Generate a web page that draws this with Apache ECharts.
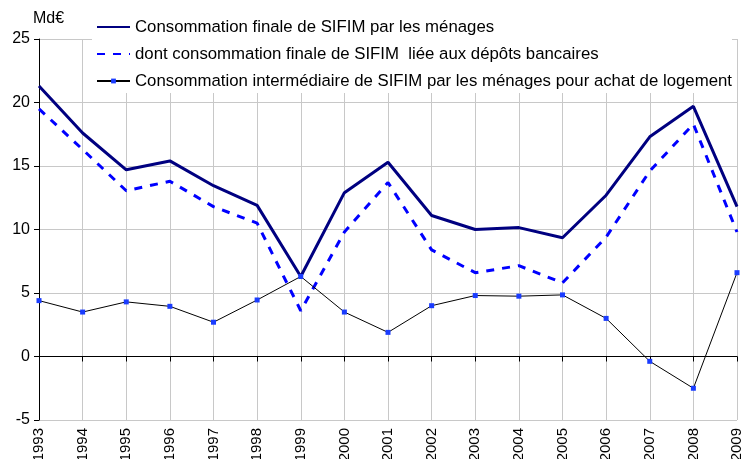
<!DOCTYPE html>
<html>
<head>
<meta charset="utf-8">
<script src="https://cdn.jsdelivr.net/npm/echarts@6/dist/echarts.min.js"></script>
<style>html,body{margin:0;padding:0;background:#fff}#c{width:743px;height:459px}</style>
</head>
<body>
<div id="c"></div>
<script>
var years = ['1993','1994','1995','1996','1997','1998','1999','2000','2001','2002','2003','2004','2005','2006','2007','2008','2009'];
var consoFinale = [21.3, 17.6, 14.7, 15.4, 13.45, 11.9, 6.3, 12.9, 15.3, 11.1, 10.0, 10.15, 9.35, 12.7, 17.3, 19.7, 11.8];
var consoDepots = [19.5, 16.3, 13.05, 13.8, 11.8, 10.5, 3.6, 9.8, 13.7, 8.4, 6.6, 7.15, 5.8, 9.4, 14.6, 18.3, 9.8];
var consoInterm = [4.4, 3.5, 4.3, 3.95, 2.7, 4.45, 6.3, 3.5, 1.9, 4.0, 4.8, 4.75, 4.85, 3.0, -0.38, -2.5, 6.6];
var seriesNames = ['Consommation finale de SIFIM par les ménages',
  'dont consommation finale de SIFIM  liée aux dépôts bancaires',
  'Consommation intermédiaire de SIFIM par les ménages pour achat de logement'];
var unitLabel = 'Md€';
var yTicks = {min: -5, max: 25, interval: 5};

var font = 'Liberation Sans, Arial, sans-serif';
var chart = echarts.init(document.getElementById('c'));
chart.setOption({
  backgroundColor: '#fff',
  animation: false,
  grid: {left: 39, right: 6, top: 39, bottom: 39, containLabel: false, outerBoundsMode: 'none'},
  graphic: [{
    type: 'text', left: 33, top: 11,
    style: {text: unitLabel, font: '16px Liberation Sans, Arial, sans-serif', fill: '#000'}
  }],
  legend: {
    orient: 'vertical', left: 92, top: 14,
    padding: [4, 0, 3, 4],
    backgroundColor: '#fff',
    itemWidth: 33, itemHeight: 6, itemGap: 9,
    textStyle: {fontFamily: font, fontSize: 16.8, color: '#000', lineHeight: 18},
    data: [
      {name: seriesNames[0], itemStyle: {opacity: 0}},
      {name: seriesNames[1], itemStyle: {opacity: 0}},
      {name: seriesNames[2]}
    ],
    z: 10
  },
  xAxis: [{
    type: 'category', data: years, boundaryGap: false, position: 'bottom',
    axisLine: {show: false, onZero: false},
    axisTick: {show: false},
    axisLabel: {rotate: 90, fontFamily: font, fontSize: 15, color: '#000', margin: 8},
    splitLine: {show: true, lineStyle: {color: '#c8c8c8', width: 1}}
  }, {
    type: 'category', data: years, boundaryGap: false, position: 'top',
    axisLine: {show: true, onZero: true, lineStyle: {color: '#000', width: 1}},
    axisTick: {show: true, inside: true, length: 5, alignWithLabel: true, lineStyle: {color: '#000'}},
    axisLabel: {show: false},
    splitLine: {show: false}
  }],
  yAxis: {
    type: 'value', min: yTicks.min, max: yTicks.max, interval: yTicks.interval,
    axisLine: {show: true, lineStyle: {color: '#000', width: 1}},
    axisTick: {show: true, length: 5, lineStyle: {color: '#000'}},
    axisLabel: {fontFamily: font, fontSize: 16, color: '#000', margin: 9},
    splitLine: {show: true, lineStyle: {color: '#c8c8c8', width: 1}}
  },
  series: [{
    name: seriesNames[0], type: 'line', data: consoFinale, xAxisIndex: 0,
    symbol: 'none', showSymbol: false,
    lineStyle: {color: '#000080', width: 3}, itemStyle: {color: '#000080'}, z: 3
  }, {
    name: seriesNames[1], type: 'line', data: consoDepots, xAxisIndex: 0,
    symbol: 'none', showSymbol: false,
    lineStyle: {color: '#0000ff', width: 3, type: [8, 8]}, itemStyle: {color: '#0000ff'}, z: 2
  }, {
    name: seriesNames[2], type: 'line', data: consoInterm, xAxisIndex: 0,
    symbol: 'rect', symbolSize: 5,
    lineStyle: {color: '#000', width: 1}, itemStyle: {color: '#1a3cff', borderWidth: 0}, z: 4
  }]
});
</script>
</body>
</html>
